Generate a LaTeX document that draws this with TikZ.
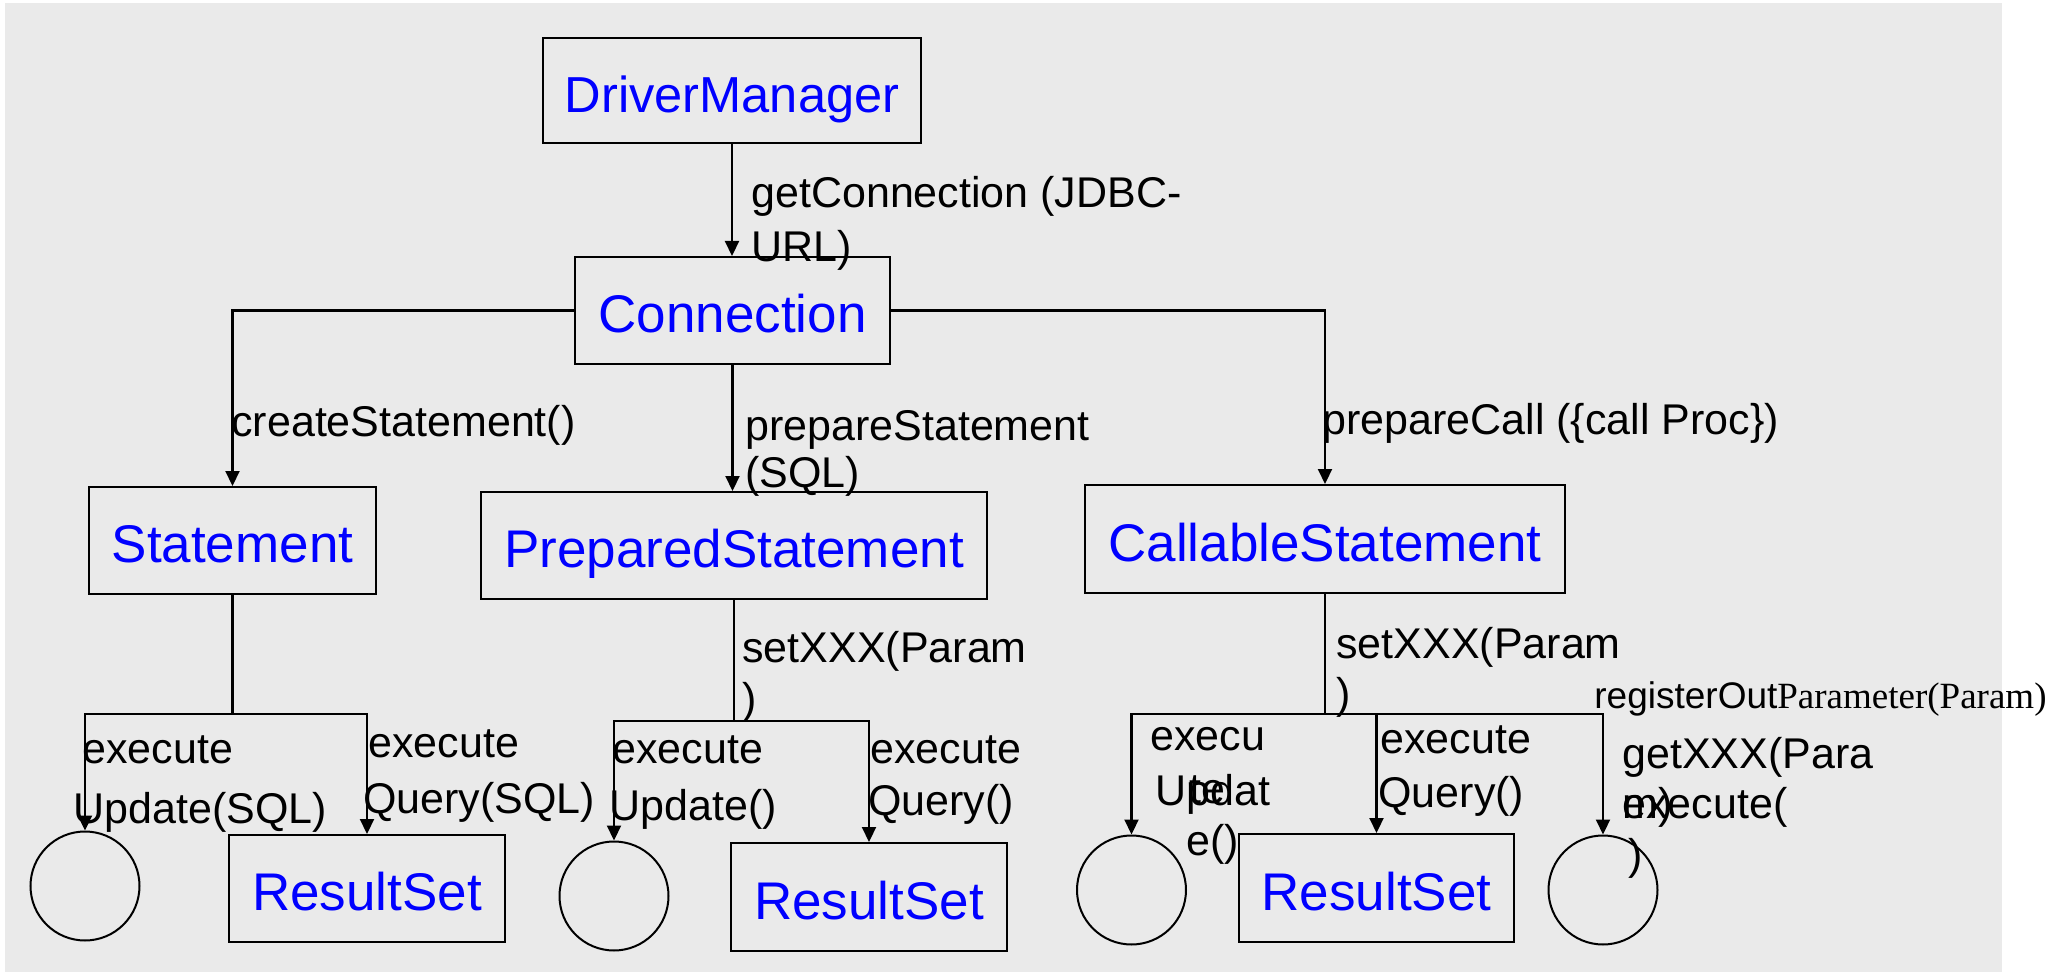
\documentclass[tikz,border=0pt]{standalone}
\usepackage{fontspec}
\setmainfont{Liberation Sans}
\newfontfamily\timesfam{Liberation Serif}
\usetikzlibrary{arrows.meta}
\definecolor{panel}{RGB}{234,234,234}
\definecolor{classblue}{RGB}{0,0,255}
% multi-line labels whose reference point is the first baseline
\newcommand\leftlines[1]{\begin{tabular}[t]{@{}l@{}}#1\end{tabular}}
\newcommand\midlines[1]{\begin{tabular}[t]{@{}c@{}}#1\end{tabular}}

\begin{document}
\begin{tikzpicture}[x=0.5pt, y=-0.5pt,
  cls/.style={draw=black, line width=1pt, inner sep=0pt, text=classblue,
    font=\fontsize{26.5pt}{30pt}\selectfont, text height=22pt, text depth=0pt,
    minimum height=53.5pt},
  result/.style={draw=black, line width=1pt, circle, minimum size=54.5pt, inner sep=0pt},
  link/.style={line width=1.1pt, -{Triangle[length=7.5pt,width=7pt]}},
  wire/.style={line width=1.1pt},
  lbl/.style={anchor=base west, inner sep=0pt, font=\fontsize{21.5pt}{#1}\selectfont},
  lbl/.default=25pt]

\useasboundingbox (0,0) rectangle (2063,973);
\fill[panel] (5,3) rectangle (2002,972);

% classes
\node[cls, font=\fontsize{25.3pt}{30pt}\selectfont, minimum width=189pt, minimum height=52.5pt] (dm) at (732,90.5) {DriverManager};
\node[cls, minimum width=157.5pt] (conn) at (732.5,310.5) {Connection};
\node[cls, minimum width=143.5pt] (stmt) at (232.5,540.5) {Statement};
\node[cls, minimum width=253pt] (pstmt) at (734,545.5) {PreparedStatement};
\node[cls, minimum width=240pt, minimum height=54pt] (cstmt) at (1325,539) {CallableStatement};
\node[cls, minimum width=138pt] (rs1) at (367,888.5) {ResultSet};
\node[cls, minimum width=138pt, minimum height=54pt] (rs2) at (869,897) {ResultSet};
\node[cls, minimum width=137.5pt, minimum height=54pt] (rs3) at (1376.5,888) {ResultSet};

% plain results
\node[result] (u1) at (85,886) {};
\node[result] (u2) at (614,896) {};
\node[result] (u3) at (1131.5,890) {};
\node[result] (o3) at (1603,890) {};

% creation paths
\draw[link] (dm.south) -- (dm.south |- conn.north);
\draw[link] (conn.west) -| (stmt.north);
\draw[link] (conn.east) -| (cstmt.north);
\draw[link] (conn.south) -- (conn.south |- pstmt.north);

% Statement calls
\coordinate (sj) at (232.5,714);
\draw[wire] (stmt.south) -- (sj);
\draw[link] (sj) -| (u1.north);
\draw[link] (sj) -| (rs1.north);

% PreparedStatement calls
\coordinate (pj) at (734,721);
\draw[wire] (pstmt.south) -- (pj);
\draw[link] (pj) -| (u2.north);
\draw[link] (pj) -| (rs2.north);

% CallableStatement calls
\coordinate (cj) at (1325,714);
\draw[wire] (cstmt.south) -- (cj);
\draw[link] (cj) -| (u3.north);
\draw[link] (cj) -| (rs3.north);
\draw[link] (cj) -| (o3.north);

% method labels
\node[lbl=27pt] (lgc) at (751,208) {\leftlines{getConnection (JDBC-\\URL)}};
\node[lbl] (lcs) at (231,437) {createStatement()};
\node[lbl=24pt] (lps) at (745,440) {\leftlines{prepareStatement\\(SQL)}};
\node[lbl] (lpc) at (1322,435) {prepareCall (\{call Proc\})};

\node[lbl=30pt] (leu1) at (82,763) {\leftlines{execute\\\hspace*{-4.5pt}Update(SQL)}};
\node[lbl=28pt] (leq1) at (368,757) {\leftlines{execute\\\hspace*{-2.5pt}Query(SQL)}};

\node[lbl=25.5pt] (lsx2) at (742,662) {\leftlines{setXXX(Param\\)}};
\node[lbl=28.5pt] (leu2) at (612,763) {\leftlines{execute\\\hspace*{-1.5pt}Update()}};
\node[lbl=26pt] (leq2) at (870,763) {\leftlines{execute\\\hspace*{-1pt}Query()}};

\node[lbl=25pt] (lsx3) at (1336,658) {\leftlines{setXXX(Param\\)}};
\node[lbl=26.5pt] (leu3a) at (1150,750) {\midlines{execu\\te}};
\node[lbl=25pt] (leu3b) at (1155,805) {\midlines{Updat\\e()}};
\node[lbl=27pt] (leq3) at (1380,753) {\leftlines{execute\\\hspace*{-1pt}Query()}};
\node[anchor=base west, inner sep=0pt, font=\fontsize{18.5pt}{22pt}\selectfont] (lro)
  at (1594,708) {registerOut{\timesfam Parameter(Param)}};
\node[lbl=25pt] (lgx) at (1622,768) {\leftlines{getXXX(Para\\m)}};
\node[lbl=25.5pt] (lex) at (1622,818) {\leftlines{execute(\\\hspace*{3pt})}};

\end{tikzpicture}
\end{document}
